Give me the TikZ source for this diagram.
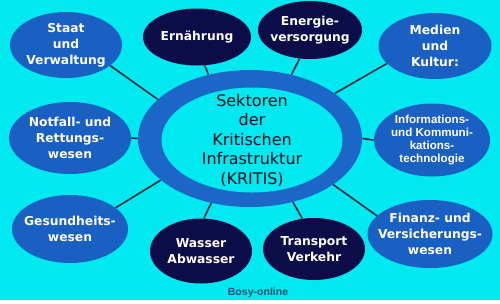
\documentclass[tikz,border=0pt]{standalone}
\usepackage{fontspec}
\setmainfont{DejaVu Sans}
\newfontfamily\krarial{Liberation Sans}
\usetikzlibrary{shapes.geometric}
\definecolor{krciano}{HTML}{00E8F0}
\definecolor{krazul}{HTML}{1A5FC2}
\definecolor{kranel}{HTML}{1C66C8}
\definecolor{krescuro}{HTML}{0C0C48}
\definecolor{krlinha}{HTML}{1A2A3A}
\definecolor{krtexto}{HTML}{0A1020}
\definecolor{krrodape}{HTML}{1F4F6F}
\tikzset{
  krsetor/.style={ellipse, fill=krazul, text=white, align=center,
                  font=\fontsize{7}{9.1}\selectfont\bfseries, inner xsep=-2.5mm, inner ysep=0pt},
  krsetorescuro/.style={krsetor, fill=krescuro},
  krligacao/.style={draw=krlinha, line width=0.9pt},
}
\begin{document}
\begin{tikzpicture}[
        anel/.style={ellipse, inner sep=0pt},
        texto/.style={font=\fontsize{9.1}{11.1}\selectfont, text=krtexto, align=center}
    ]
        % fundo
        \fill[krciano] (0,0) rectangle (10,6);
        % anel central
        \node[anel, fill=kranel, minimum width=4.48cm, minimum height=2.74cm] (anel) at (5.0,3.23) {};
        \node[anel, texto, fill=krciano, minimum width=3.62cm, minimum height=2.1cm, inner ysep=-3mm] (kritis) at (5.04,3.2) {Sektoren\\der\\Kritischen\\Infrastruktur\\(KRITIS)};
        % setores de cima
        \node[krsetor, minimum width=2.24cm, minimum height=1.32cm] (staat) at (1.32,5.1) {Staat\\und\\Verwaltung};
        \node[krsetorescuro, minimum width=2.16cm, minimum height=1.14cm] (ernaehrung) at (3.94,5.26) {Ernährung};
        \node[krsetorescuro, minimum width=2.08cm, minimum height=1.16cm] (energie) at (6.2,5.4) {Energie-\\versorgung};
        \node[krsetor, minimum width=2.26cm, minimum height=1.32cm] (medien) at (8.7,5.08) {Medien\\und\\Kultur:};
        % setores do meio
        \node[krsetor, minimum width=2.44cm, minimum height=1.44cm] (notfall) at (1.4,3.24) {Notfall- und\\Rettungs-\\wesen};
        \node[krsetor, font=\krarial\fontsize{6.6}{7.4}\selectfont\bfseries, minimum width=2.32cm, minimum height=1.46cm] (info) at (8.64,3.2) {Informations-\\und Kommuni-\\kations-\\technologie};
        % setores de baixo
        \node[krsetor, minimum width=2.32cm, minimum height=1.36cm] (gesund) at (1.4,1.42) {Gesundheits-\\wesen};
        \node[krsetorescuro, minimum width=2.04cm, minimum height=1.3cm] (wasser) at (4.02,0.98) {Wasser\\Abwasser};
        \node[krsetorescuro, minimum width=2.04cm, minimum height=1.24cm] (transport) at (6.28,1.02) {Transport\\Verkehr};
        \node[krsetor, minimum width=2.5cm, minimum height=1.36cm] (finanz) at (8.6,1.32) {Finanz- und\\Versicherungs-\\wesen};
        % ligacoes
        \draw[krligacao] (staat.-25) -- (anel.157);
        \draw[krligacao] (ernaehrung.-75) -- (anel.123);
        \draw[krligacao] (energie.-110) -- (anel.57);
        \draw[krligacao] (medien.200) -- (anel.28);
        \draw[krligacao] (notfall.east) -- (anel.west);
        \draw[krligacao] (info.west) -- (anel.east);
        \draw[krligacao] (gesund.25) -- (anel.205);
        \draw[krligacao] (wasser.85) -- (anel.239);
        \draw[krligacao] (transport.111) -- (anel.-56);
        \draw[krligacao] (finanz.161) -- (anel.-29);
        % fonte
        \node[font=\krarial\fontsize{6}{7}\selectfont\bfseries, text=krrodape] (fonte) at (5.16,0.14) {Bosy-online};
    \end{tikzpicture}
\end{document}
